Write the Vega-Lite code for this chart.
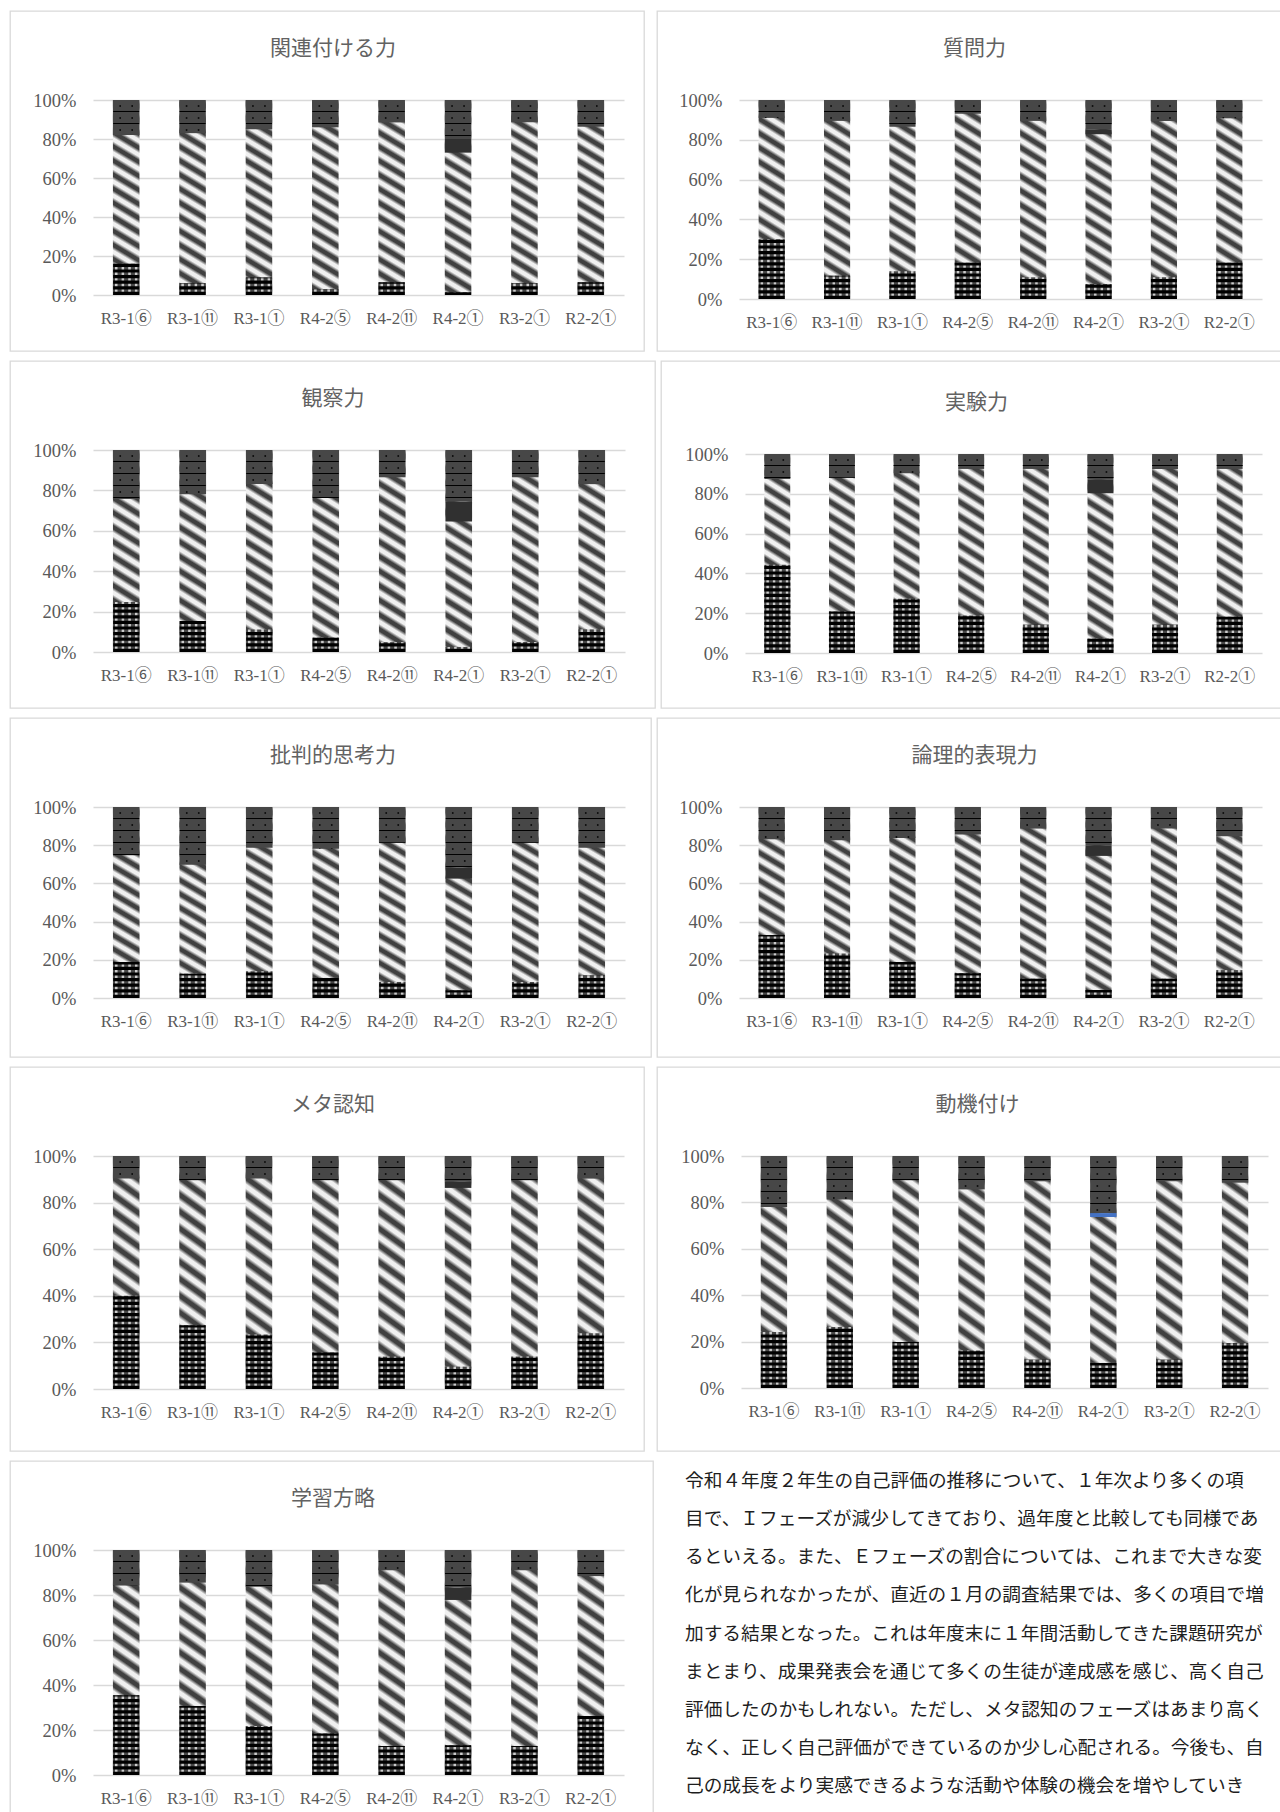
{
  "$schema": "https://vega.github.io/schema/vega-lite/v6.json",
  "padding": {"left": 9, "top": 10, "right": 0, "bottom": 0},
  "background": "white",
  "spacing": 8,
  "datasets": {
    "scores": [
      {"skill": "関連付ける力", "group": "R3-1⑥", "lv1": 0.16, "lv2": 0.66, "lv3": 0, "lv4": 0.18},
      {"skill": "関連付ける力", "group": "R3-1⑪", "lv1": 0.06, "lv2": 0.77, "lv3": 0, "lv4": 0.17},
      {"skill": "関連付ける力", "group": "R3-1①", "lv1": 0.09, "lv2": 0.76, "lv3": 0, "lv4": 0.15},
      {"skill": "関連付ける力", "group": "R4-2⑤", "lv1": 0.03, "lv2": 0.83, "lv3": 0, "lv4": 0.14},
      {"skill": "関連付ける力", "group": "R4-2⑪", "lv1": 0.065, "lv2": 0.82, "lv3": 0, "lv4": 0.115},
      {"skill": "関連付ける力", "group": "R4-2①", "lv1": 0.014, "lv2": 0.716, "lv3": 0.07, "lv4": 0.2},
      {"skill": "関連付ける力", "group": "R3-2①", "lv1": 0.06, "lv2": 0.826, "lv3": 0, "lv4": 0.114},
      {"skill": "関連付ける力", "group": "R2-2①", "lv1": 0.065, "lv2": 0.798, "lv3": 0, "lv4": 0.137},
      {"skill": "質問力", "group": "R3-1⑥", "lv1": 0.3, "lv2": 0.61, "lv3": 0, "lv4": 0.09},
      {"skill": "質問力", "group": "R3-1⑪", "lv1": 0.117, "lv2": 0.778, "lv3": 0, "lv4": 0.105},
      {"skill": "質問力", "group": "R3-1①", "lv1": 0.139, "lv2": 0.726, "lv3": 0, "lv4": 0.135},
      {"skill": "質問力", "group": "R4-2⑤", "lv1": 0.182, "lv2": 0.749, "lv3": 0, "lv4": 0.069},
      {"skill": "質問力", "group": "R4-2⑪", "lv1": 0.109, "lv2": 0.786, "lv3": 0, "lv4": 0.105},
      {"skill": "質問力", "group": "R4-2①", "lv1": 0.075, "lv2": 0.753, "lv3": 0.025, "lv4": 0.147},
      {"skill": "質問力", "group": "R3-2①", "lv1": 0.109, "lv2": 0.786, "lv3": 0, "lv4": 0.105},
      {"skill": "質問力", "group": "R2-2①", "lv1": 0.182, "lv2": 0.726, "lv3": 0, "lv4": 0.092},
      {"skill": "観察力", "group": "R3-1⑥", "lv1": 0.247, "lv2": 0.511, "lv3": 0, "lv4": 0.242},
      {"skill": "観察力", "group": "R3-1⑪", "lv1": 0.153, "lv2": 0.628, "lv3": 0, "lv4": 0.219},
      {"skill": "観察力", "group": "R3-1①", "lv1": 0.112, "lv2": 0.72, "lv3": 0, "lv4": 0.168},
      {"skill": "観察力", "group": "R4-2⑤", "lv1": 0.071, "lv2": 0.691, "lv3": 0, "lv4": 0.238},
      {"skill": "観察力", "group": "R4-2⑪", "lv1": 0.049, "lv2": 0.816, "lv3": 0, "lv4": 0.135},
      {"skill": "観察力", "group": "R4-2①", "lv1": 0.025, "lv2": 0.621, "lv3": 0.099, "lv4": 0.255},
      {"skill": "観察力", "group": "R3-2①", "lv1": 0.049, "lv2": 0.816, "lv3": 0, "lv4": 0.135},
      {"skill": "観察力", "group": "R2-2①", "lv1": 0.112, "lv2": 0.719, "lv3": 0, "lv4": 0.169},
      {"skill": "実験力", "group": "R3-1⑥", "lv1": 0.443, "lv2": 0.432, "lv3": 0, "lv4": 0.125},
      {"skill": "実験力", "group": "R3-1⑪", "lv1": 0.209, "lv2": 0.672, "lv3": 0, "lv4": 0.119},
      {"skill": "実験力", "group": "R3-1①", "lv1": 0.273, "lv2": 0.63, "lv3": 0, "lv4": 0.097},
      {"skill": "実験力", "group": "R4-2⑤", "lv1": 0.189, "lv2": 0.736, "lv3": 0, "lv4": 0.075},
      {"skill": "実験力", "group": "R4-2⑪", "lv1": 0.142, "lv2": 0.783, "lv3": 0, "lv4": 0.075},
      {"skill": "実験力", "group": "R4-2①", "lv1": 0.072, "lv2": 0.731, "lv3": 0.067, "lv4": 0.13},
      {"skill": "実験力", "group": "R3-2①", "lv1": 0.142, "lv2": 0.783, "lv3": 0, "lv4": 0.075},
      {"skill": "実験力", "group": "R2-2①", "lv1": 0.182, "lv2": 0.743, "lv3": 0, "lv4": 0.075},
      {"skill": "批判的思考力", "group": "R3-1⑥", "lv1": 0.188, "lv2": 0.559, "lv3": 0, "lv4": 0.253},
      {"skill": "批判的思考力", "group": "R3-1⑪", "lv1": 0.127, "lv2": 0.571, "lv3": 0, "lv4": 0.302},
      {"skill": "批判的思考力", "group": "R3-1①", "lv1": 0.14, "lv2": 0.647, "lv3": 0, "lv4": 0.213},
      {"skill": "批判的思考力", "group": "R4-2⑤", "lv1": 0.105, "lv2": 0.677, "lv3": 0, "lv4": 0.218},
      {"skill": "批判的思考力", "group": "R4-2⑪", "lv1": 0.084, "lv2": 0.729, "lv3": 0, "lv4": 0.187},
      {"skill": "批判的思考力", "group": "R4-2①", "lv1": 0.04, "lv2": 0.585, "lv3": 0.057, "lv4": 0.318},
      {"skill": "批判的思考力", "group": "R3-2①", "lv1": 0.084, "lv2": 0.729, "lv3": 0, "lv4": 0.187},
      {"skill": "批判的思考力", "group": "R2-2①", "lv1": 0.119, "lv2": 0.668, "lv3": 0, "lv4": 0.213},
      {"skill": "論理的表現力", "group": "R3-1⑥", "lv1": 0.33, "lv2": 0.501, "lv3": 0, "lv4": 0.169},
      {"skill": "論理的表現力", "group": "R3-1⑪", "lv1": 0.233, "lv2": 0.593, "lv3": 0, "lv4": 0.174},
      {"skill": "論理的表現力", "group": "R3-1①", "lv1": 0.188, "lv2": 0.65, "lv3": 0, "lv4": 0.162},
      {"skill": "論理的表現力", "group": "R4-2⑤", "lv1": 0.13, "lv2": 0.726, "lv3": 0, "lv4": 0.144},
      {"skill": "論理的表現力", "group": "R4-2⑪", "lv1": 0.101, "lv2": 0.786, "lv3": 0, "lv4": 0.113},
      {"skill": "論理的表現力", "group": "R4-2①", "lv1": 0.042, "lv2": 0.702, "lv3": 0.056, "lv4": 0.2},
      {"skill": "論理的表現力", "group": "R3-2①", "lv1": 0.101, "lv2": 0.786, "lv3": 0, "lv4": 0.113},
      {"skill": "論理的表現力", "group": "R2-2①", "lv1": 0.146, "lv2": 0.701, "lv3": 0, "lv4": 0.153},
      {"skill": "メタ認知", "group": "R3-1⑥", "lv1": 0.4, "lv2": 0.503, "lv3": 0, "lv4": 0.097},
      {"skill": "メタ認知", "group": "R3-1⑪", "lv1": 0.274, "lv2": 0.622, "lv3": 0, "lv4": 0.104},
      {"skill": "メタ認知", "group": "R3-1①", "lv1": 0.234, "lv2": 0.669, "lv3": 0, "lv4": 0.097},
      {"skill": "メタ認知", "group": "R4-2⑤", "lv1": 0.157, "lv2": 0.739, "lv3": 0, "lv4": 0.104},
      {"skill": "メタ認知", "group": "R4-2⑪", "lv1": 0.139, "lv2": 0.757, "lv3": 0, "lv4": 0.104},
      {"skill": "メタ認知", "group": "R4-2①", "lv1": 0.096, "lv2": 0.767, "lv3": 0.026, "lv4": 0.111},
      {"skill": "メタ認知", "group": "R3-2①", "lv1": 0.139, "lv2": 0.757, "lv3": 0, "lv4": 0.104},
      {"skill": "メタ認知", "group": "R2-2①", "lv1": 0.239, "lv2": 0.664, "lv3": 0, "lv4": 0.097},
      {"skill": "動機付け", "group": "R3-1⑥", "lv1": 0.241, "lv2": 0.539, "lv3": 0, "lv4": 0.22},
      {"skill": "動機付け", "group": "R3-1⑪", "lv1": 0.263, "lv2": 0.55, "lv3": 0, "lv4": 0.187},
      {"skill": "動機付け", "group": "R3-1①", "lv1": 0.198, "lv2": 0.697, "lv3": 0, "lv4": 0.105},
      {"skill": "動機付け", "group": "R4-2⑤", "lv1": 0.162, "lv2": 0.694, "lv3": 0, "lv4": 0.144},
      {"skill": "動機付け", "group": "R4-2⑪", "lv1": 0.122, "lv2": 0.769, "lv3": 0, "lv4": 0.109},
      {"skill": "動機付け", "group": "R4-2①", "lv1": 0.108, "lv2": 0.629, "lv3": 0.017, "lv4": 0.246},
      {"skill": "動機付け", "group": "R3-2①", "lv1": 0.122, "lv2": 0.769, "lv3": 0, "lv4": 0.109},
      {"skill": "動機付け", "group": "R2-2①", "lv1": 0.194, "lv2": 0.691, "lv3": 0, "lv4": 0.115},
      {"skill": "学習方略", "group": "R3-1⑥", "lv1": 0.354, "lv2": 0.489, "lv3": 0, "lv4": 0.157},
      {"skill": "学習方略", "group": "R3-1⑪", "lv1": 0.307, "lv2": 0.548, "lv3": 0, "lv4": 0.145},
      {"skill": "学習方略", "group": "R3-1①", "lv1": 0.218, "lv2": 0.619, "lv3": 0, "lv4": 0.163},
      {"skill": "学習方略", "group": "R4-2⑤", "lv1": 0.184, "lv2": 0.663, "lv3": 0, "lv4": 0.153},
      {"skill": "学習方略", "group": "R4-2⑪", "lv1": 0.129, "lv2": 0.781, "lv3": 0, "lv4": 0.09},
      {"skill": "学習方略", "group": "R4-2①", "lv1": 0.132, "lv2": 0.646, "lv3": 0.055, "lv4": 0.167},
      {"skill": "学習方略", "group": "R3-2①", "lv1": 0.129, "lv2": 0.781, "lv3": 0, "lv4": 0.09},
      {"skill": "学習方略", "group": "R2-2①", "lv1": 0.262, "lv2": 0.622, "lv3": 0, "lv4": 0.116}
    ],
    "notes": [
      {"line": 1, "text": "　令和４年度２年生の自己評価の推移について、１年次より多くの項"},
      {"line": 2, "text": "目で、Ｉフェーズが減少してきており、過年度と比較しても同様であ"},
      {"line": 3, "text": "るといえる。また、Ｅフェーズの割合については、これまで大きな変"},
      {"line": 4, "text": "化が見られなかったが、直近の１月の調査結果では、多くの項目で増"},
      {"line": 5, "text": "加する結果となった。これは年度末に１年間活動してきた課題研究が"},
      {"line": 6, "text": "まとまり、成果発表会を通じて多くの生徒が達成感を感じ、高く自己"},
      {"line": 7, "text": "評価したのかもしれない。ただし、メタ認知のフェーズはあまり高く"},
      {"line": 8, "text": "なく、正しく自己評価ができているのか少し心配される。今後も、自"},
      {"line": 9, "text": "己の成長をより実感できるような活動や体験の機会を増やしていき"}
    ]
  },
  "vconcat": [
    {
      "spacing": 11,
      "hconcat": [
        {
          "width": 634, "height": 340,
          "title": {"text": "関連付ける力", "dx": 6},
          "data": {"name": "scores"},
          "transform": [
            {"filter": {"field": "skill", "equal": "関連付ける力"}},
            {"fold": ["lv1", "lv2", "lv3", "lv4"], "as": ["phase", "share"]},
            {"stack": "share", "groupby": ["group"], "sort": [{"field": "phase", "order": "ascending"}], "as": ["y0", "y1"]}
          ],
          "encoding": {
            "x": {"field": "group", "type": "nominal", "sort": ["R3-1⑥", "R3-1⑪", "R3-1①", "R4-2⑤", "R4-2⑪", "R4-2①", "R3-2①", "R2-2①"], "scale": {"range": [83, 614], "paddingInner": 0.6, "paddingOuter": 0.3}, "axis": {"title": null, "offset": -56}},
            "y": {"field": "y1", "type": "quantitative", "scale": {"domain": [0, 1], "range": [284, 89], "nice": false}, "axis": {"title": null, "offset": -83, "values": [0, 0.2, 0.4, 0.6, 0.8, 1], "format": ".0%"}},
            "y2": {"field": "y0"}
          },
          "layer": [
            {"transform": [{"aggregate": [{"op": "max", "field": "y1", "as": "y1"}, {"op": "min", "field": "y0", "as": "y0"}], "groupby": ["group"]}],
             "mark": {"type": "bar", "fill": {"gradient": "linear", "x1": 1, "y1": 0, "x2": 0.9122, "y2": 1.0745, "stops": [{"offset": 0, "color": "#f0f0f0"}, {"offset": 0.0033, "color": "#f0f0f0"}, {"offset": 0.02, "color": "#404040"}, {"offset": 0.0367, "color": "#404040"}, {"offset": 0.0533, "color": "#f0f0f0"}, {"offset": 0.07, "color": "#f0f0f0"}, {"offset": 0.0867, "color": "#404040"}, {"offset": 0.1033, "color": "#404040"}, {"offset": 0.12, "color": "#f0f0f0"}, {"offset": 0.1367, "color": "#f0f0f0"}, {"offset": 0.1533, "color": "#404040"}, {"offset": 0.17, "color": "#404040"}, {"offset": 0.1867, "color": "#f0f0f0"}, {"offset": 0.2033, "color": "#f0f0f0"}, {"offset": 0.22, "color": "#404040"}, {"offset": 0.2367, "color": "#404040"}, {"offset": 0.2533, "color": "#f0f0f0"}, {"offset": 0.27, "color": "#f0f0f0"}, {"offset": 0.2867, "color": "#404040"}, {"offset": 0.3033, "color": "#404040"}, {"offset": 0.32, "color": "#f0f0f0"}, {"offset": 0.3367, "color": "#f0f0f0"}, {"offset": 0.3533, "color": "#404040"}, {"offset": 0.37, "color": "#404040"}, {"offset": 0.3867, "color": "#f0f0f0"}, {"offset": 0.4033, "color": "#f0f0f0"}, {"offset": 0.42, "color": "#404040"}, {"offset": 0.4367, "color": "#404040"}, {"offset": 0.4533, "color": "#f0f0f0"}, {"offset": 0.47, "color": "#f0f0f0"}, {"offset": 0.4867, "color": "#404040"}, {"offset": 0.5033, "color": "#404040"}, {"offset": 0.52, "color": "#f0f0f0"}, {"offset": 0.5367, "color": "#f0f0f0"}, {"offset": 0.5533, "color": "#404040"}, {"offset": 0.57, "color": "#404040"}, {"offset": 0.5867, "color": "#f0f0f0"}, {"offset": 0.6033, "color": "#f0f0f0"}, {"offset": 0.62, "color": "#404040"}, {"offset": 0.6367, "color": "#404040"}, {"offset": 0.6533, "color": "#f0f0f0"}, {"offset": 0.67, "color": "#f0f0f0"}, {"offset": 0.6867, "color": "#404040"}, {"offset": 0.7033, "color": "#404040"}, {"offset": 0.72, "color": "#f0f0f0"}, {"offset": 0.7367, "color": "#f0f0f0"}, {"offset": 0.7533, "color": "#404040"}, {"offset": 0.77, "color": "#404040"}, {"offset": 0.7867, "color": "#f0f0f0"}, {"offset": 0.8033, "color": "#f0f0f0"}, {"offset": 0.82, "color": "#404040"}, {"offset": 0.8367, "color": "#404040"}, {"offset": 0.8533, "color": "#f0f0f0"}, {"offset": 0.87, "color": "#f0f0f0"}, {"offset": 0.8867, "color": "#404040"}, {"offset": 0.9033, "color": "#404040"}, {"offset": 0.92, "color": "#f0f0f0"}, {"offset": 0.9367, "color": "#f0f0f0"}, {"offset": 0.9533, "color": "#404040"}, {"offset": 0.97, "color": "#404040"}, {"offset": 0.9867, "color": "#f0f0f0"}, {"offset": 1, "color": "#f0f0f0"}]}}},
            {"transform": [{"filter": {"field": "phase", "equal": "lv1"}}],
             "mark": {"type": "bar", "fill": {"gradient": "linear", "x1": 0, "y1": 0, "x2": 1, "y2": 0, "stops": [{"offset": 0, "color": "#474747"}, {"offset": 0.06, "color": "#474747"}, {"offset": 0.095, "color": "#cccccc"}, {"offset": 0.155, "color": "#cccccc"}, {"offset": 0.19, "color": "#474747"}, {"offset": 0.31, "color": "#474747"}, {"offset": 0.345, "color": "#cccccc"}, {"offset": 0.405, "color": "#cccccc"}, {"offset": 0.44, "color": "#474747"}, {"offset": 0.56, "color": "#474747"}, {"offset": 0.595, "color": "#cccccc"}, {"offset": 0.655, "color": "#cccccc"}, {"offset": 0.69, "color": "#474747"}, {"offset": 0.81, "color": "#474747"}, {"offset": 0.845, "color": "#cccccc"}, {"offset": 0.905, "color": "#cccccc"}, {"offset": 0.94, "color": "#474747"}, {"offset": 1, "color": "#474747"}]}}},
            {"transform": [{"filter": {"field": "phase", "equal": "lv1"}}, {"aggregate": [{"op": "min", "field": "y0", "as": "y1"}, {"op": "max", "field": "y1", "as": "y0"}], "groupby": ["group"]}], "mark": {"type": "rule", "style": "imask"}},
            {"transform": [{"filter": {"field": "phase", "equal": "lv3"}}], "mark": {"type": "bar", "fill": "#303030"}},
            {"transform": [{"filter": {"field": "phase", "equal": "lv4"}}], "mark": {"type": "bar", "fill": "#474747"}},
            {"transform": [{"filter": {"field": "phase", "equal": "lv4"}}], "mark": {"type": "rule", "style": "elines"}},
            {"transform": [{"filter": {"field": "phase", "equal": "lv4"}}], "mark": {"type": "rule", "style": "edot", "xOffset": -6}},
            {"transform": [{"filter": {"field": "phase", "equal": "lv4"}}], "mark": {"type": "rule", "style": "edot", "xOffset": 6}}
          ]
        },
        {
          "width": 625, "height": 340,
          "title": {"text": "質問力", "dx": 5},
          "data": {"name": "scores"},
          "transform": [
            {"filter": {"field": "skill", "equal": "質問力"}},
            {"fold": ["lv1", "lv2", "lv3", "lv4"], "as": ["phase", "share"]},
            {"stack": "share", "groupby": ["group"], "sort": [{"field": "phase", "order": "ascending"}], "as": ["y0", "y1"]}
          ],
          "encoding": {
            "x": {"field": "group", "type": "nominal", "sort": ["R3-1⑥", "R3-1⑪", "R3-1①", "R4-2⑤", "R4-2⑪", "R4-2①", "R3-2①", "R2-2①"], "scale": {"range": [82, 605], "paddingInner": 0.6, "paddingOuter": 0.3}, "axis": {"title": null, "offset": -52}},
            "y": {"field": "y1", "type": "quantitative", "scale": {"domain": [0, 1], "range": [288, 89], "nice": false}, "axis": {"title": null, "offset": -82, "values": [0, 0.2, 0.4, 0.6, 0.8, 1], "format": ".0%"}},
            "y2": {"field": "y0"}
          },
          "layer": [
            {"transform": [{"aggregate": [{"op": "max", "field": "y1", "as": "y1"}, {"op": "min", "field": "y0", "as": "y0"}], "groupby": ["group"]}],
             "mark": {"type": "bar", "fill": {"gradient": "linear", "x1": 1, "y1": 0, "x2": 0.9122, "y2": 1.0745, "stops": [{"offset": 0, "color": "#f0f0f0"}, {"offset": 0.0033, "color": "#f0f0f0"}, {"offset": 0.02, "color": "#404040"}, {"offset": 0.0367, "color": "#404040"}, {"offset": 0.0533, "color": "#f0f0f0"}, {"offset": 0.07, "color": "#f0f0f0"}, {"offset": 0.0867, "color": "#404040"}, {"offset": 0.1033, "color": "#404040"}, {"offset": 0.12, "color": "#f0f0f0"}, {"offset": 0.1367, "color": "#f0f0f0"}, {"offset": 0.1533, "color": "#404040"}, {"offset": 0.17, "color": "#404040"}, {"offset": 0.1867, "color": "#f0f0f0"}, {"offset": 0.2033, "color": "#f0f0f0"}, {"offset": 0.22, "color": "#404040"}, {"offset": 0.2367, "color": "#404040"}, {"offset": 0.2533, "color": "#f0f0f0"}, {"offset": 0.27, "color": "#f0f0f0"}, {"offset": 0.2867, "color": "#404040"}, {"offset": 0.3033, "color": "#404040"}, {"offset": 0.32, "color": "#f0f0f0"}, {"offset": 0.3367, "color": "#f0f0f0"}, {"offset": 0.3533, "color": "#404040"}, {"offset": 0.37, "color": "#404040"}, {"offset": 0.3867, "color": "#f0f0f0"}, {"offset": 0.4033, "color": "#f0f0f0"}, {"offset": 0.42, "color": "#404040"}, {"offset": 0.4367, "color": "#404040"}, {"offset": 0.4533, "color": "#f0f0f0"}, {"offset": 0.47, "color": "#f0f0f0"}, {"offset": 0.4867, "color": "#404040"}, {"offset": 0.5033, "color": "#404040"}, {"offset": 0.52, "color": "#f0f0f0"}, {"offset": 0.5367, "color": "#f0f0f0"}, {"offset": 0.5533, "color": "#404040"}, {"offset": 0.57, "color": "#404040"}, {"offset": 0.5867, "color": "#f0f0f0"}, {"offset": 0.6033, "color": "#f0f0f0"}, {"offset": 0.62, "color": "#404040"}, {"offset": 0.6367, "color": "#404040"}, {"offset": 0.6533, "color": "#f0f0f0"}, {"offset": 0.67, "color": "#f0f0f0"}, {"offset": 0.6867, "color": "#404040"}, {"offset": 0.7033, "color": "#404040"}, {"offset": 0.72, "color": "#f0f0f0"}, {"offset": 0.7367, "color": "#f0f0f0"}, {"offset": 0.7533, "color": "#404040"}, {"offset": 0.77, "color": "#404040"}, {"offset": 0.7867, "color": "#f0f0f0"}, {"offset": 0.8033, "color": "#f0f0f0"}, {"offset": 0.82, "color": "#404040"}, {"offset": 0.8367, "color": "#404040"}, {"offset": 0.8533, "color": "#f0f0f0"}, {"offset": 0.87, "color": "#f0f0f0"}, {"offset": 0.8867, "color": "#404040"}, {"offset": 0.9033, "color": "#404040"}, {"offset": 0.92, "color": "#f0f0f0"}, {"offset": 0.9367, "color": "#f0f0f0"}, {"offset": 0.9533, "color": "#404040"}, {"offset": 0.97, "color": "#404040"}, {"offset": 0.9867, "color": "#f0f0f0"}, {"offset": 1, "color": "#f0f0f0"}]}}},
            {"transform": [{"filter": {"field": "phase", "equal": "lv1"}}],
             "mark": {"type": "bar", "fill": {"gradient": "linear", "x1": 0, "y1": 0, "x2": 1, "y2": 0, "stops": [{"offset": 0, "color": "#474747"}, {"offset": 0.06, "color": "#474747"}, {"offset": 0.095, "color": "#cccccc"}, {"offset": 0.155, "color": "#cccccc"}, {"offset": 0.19, "color": "#474747"}, {"offset": 0.31, "color": "#474747"}, {"offset": 0.345, "color": "#cccccc"}, {"offset": 0.405, "color": "#cccccc"}, {"offset": 0.44, "color": "#474747"}, {"offset": 0.56, "color": "#474747"}, {"offset": 0.595, "color": "#cccccc"}, {"offset": 0.655, "color": "#cccccc"}, {"offset": 0.69, "color": "#474747"}, {"offset": 0.81, "color": "#474747"}, {"offset": 0.845, "color": "#cccccc"}, {"offset": 0.905, "color": "#cccccc"}, {"offset": 0.94, "color": "#474747"}, {"offset": 1, "color": "#474747"}]}}},
            {"transform": [{"filter": {"field": "phase", "equal": "lv1"}}, {"aggregate": [{"op": "min", "field": "y0", "as": "y1"}, {"op": "max", "field": "y1", "as": "y0"}], "groupby": ["group"]}], "mark": {"type": "rule", "style": "imask"}},
            {"transform": [{"filter": {"field": "phase", "equal": "lv3"}}], "mark": {"type": "bar", "fill": "#303030"}},
            {"transform": [{"filter": {"field": "phase", "equal": "lv4"}}], "mark": {"type": "bar", "fill": "#474747"}},
            {"transform": [{"filter": {"field": "phase", "equal": "lv4"}}], "mark": {"type": "rule", "style": "elines"}},
            {"transform": [{"filter": {"field": "phase", "equal": "lv4"}}], "mark": {"type": "rule", "style": "edot", "xOffset": -6}},
            {"transform": [{"filter": {"field": "phase", "equal": "lv4"}}], "mark": {"type": "rule", "style": "edot", "xOffset": 6}}
          ]
        }
      ]
    },
    {
      "spacing": 4,
      "hconcat": [
        {
          "width": 645, "height": 347,
          "title": {"text": "観察力", "dx": 0.5},
          "data": {"name": "scores"},
          "transform": [
            {"filter": {"field": "skill", "equal": "観察力"}},
            {"fold": ["lv1", "lv2", "lv3", "lv4"], "as": ["phase", "share"]},
            {"stack": "share", "groupby": ["group"], "sort": [{"field": "phase", "order": "ascending"}], "as": ["y0", "y1"]}
          ],
          "encoding": {
            "x": {"field": "group", "type": "nominal", "sort": ["R3-1⑥", "R3-1⑪", "R3-1①", "R4-2⑤", "R4-2⑪", "R4-2①", "R3-2①", "R2-2①"], "scale": {"range": [83, 615], "paddingInner": 0.6, "paddingOuter": 0.3}, "axis": {"title": null, "offset": -56}},
            "y": {"field": "y1", "type": "quantitative", "scale": {"domain": [0, 1], "range": [291, 89], "nice": false}, "axis": {"title": null, "offset": -83, "values": [0, 0.2, 0.4, 0.6, 0.8, 1], "format": ".0%"}},
            "y2": {"field": "y0"}
          },
          "layer": [
            {"transform": [{"aggregate": [{"op": "max", "field": "y1", "as": "y1"}, {"op": "min", "field": "y0", "as": "y0"}], "groupby": ["group"]}],
             "mark": {"type": "bar", "fill": {"gradient": "linear", "x1": 1, "y1": 0, "x2": 0.9122, "y2": 1.0745, "stops": [{"offset": 0, "color": "#f0f0f0"}, {"offset": 0.0033, "color": "#f0f0f0"}, {"offset": 0.02, "color": "#404040"}, {"offset": 0.0367, "color": "#404040"}, {"offset": 0.0533, "color": "#f0f0f0"}, {"offset": 0.07, "color": "#f0f0f0"}, {"offset": 0.0867, "color": "#404040"}, {"offset": 0.1033, "color": "#404040"}, {"offset": 0.12, "color": "#f0f0f0"}, {"offset": 0.1367, "color": "#f0f0f0"}, {"offset": 0.1533, "color": "#404040"}, {"offset": 0.17, "color": "#404040"}, {"offset": 0.1867, "color": "#f0f0f0"}, {"offset": 0.2033, "color": "#f0f0f0"}, {"offset": 0.22, "color": "#404040"}, {"offset": 0.2367, "color": "#404040"}, {"offset": 0.2533, "color": "#f0f0f0"}, {"offset": 0.27, "color": "#f0f0f0"}, {"offset": 0.2867, "color": "#404040"}, {"offset": 0.3033, "color": "#404040"}, {"offset": 0.32, "color": "#f0f0f0"}, {"offset": 0.3367, "color": "#f0f0f0"}, {"offset": 0.3533, "color": "#404040"}, {"offset": 0.37, "color": "#404040"}, {"offset": 0.3867, "color": "#f0f0f0"}, {"offset": 0.4033, "color": "#f0f0f0"}, {"offset": 0.42, "color": "#404040"}, {"offset": 0.4367, "color": "#404040"}, {"offset": 0.4533, "color": "#f0f0f0"}, {"offset": 0.47, "color": "#f0f0f0"}, {"offset": 0.4867, "color": "#404040"}, {"offset": 0.5033, "color": "#404040"}, {"offset": 0.52, "color": "#f0f0f0"}, {"offset": 0.5367, "color": "#f0f0f0"}, {"offset": 0.5533, "color": "#404040"}, {"offset": 0.57, "color": "#404040"}, {"offset": 0.5867, "color": "#f0f0f0"}, {"offset": 0.6033, "color": "#f0f0f0"}, {"offset": 0.62, "color": "#404040"}, {"offset": 0.6367, "color": "#404040"}, {"offset": 0.6533, "color": "#f0f0f0"}, {"offset": 0.67, "color": "#f0f0f0"}, {"offset": 0.6867, "color": "#404040"}, {"offset": 0.7033, "color": "#404040"}, {"offset": 0.72, "color": "#f0f0f0"}, {"offset": 0.7367, "color": "#f0f0f0"}, {"offset": 0.7533, "color": "#404040"}, {"offset": 0.77, "color": "#404040"}, {"offset": 0.7867, "color": "#f0f0f0"}, {"offset": 0.8033, "color": "#f0f0f0"}, {"offset": 0.82, "color": "#404040"}, {"offset": 0.8367, "color": "#404040"}, {"offset": 0.8533, "color": "#f0f0f0"}, {"offset": 0.87, "color": "#f0f0f0"}, {"offset": 0.8867, "color": "#404040"}, {"offset": 0.9033, "color": "#404040"}, {"offset": 0.92, "color": "#f0f0f0"}, {"offset": 0.9367, "color": "#f0f0f0"}, {"offset": 0.9533, "color": "#404040"}, {"offset": 0.97, "color": "#404040"}, {"offset": 0.9867, "color": "#f0f0f0"}, {"offset": 1, "color": "#f0f0f0"}]}}},
            {"transform": [{"filter": {"field": "phase", "equal": "lv1"}}],
             "mark": {"type": "bar", "fill": {"gradient": "linear", "x1": 0, "y1": 0, "x2": 1, "y2": 0, "stops": [{"offset": 0, "color": "#474747"}, {"offset": 0.06, "color": "#474747"}, {"offset": 0.095, "color": "#cccccc"}, {"offset": 0.155, "color": "#cccccc"}, {"offset": 0.19, "color": "#474747"}, {"offset": 0.31, "color": "#474747"}, {"offset": 0.345, "color": "#cccccc"}, {"offset": 0.405, "color": "#cccccc"}, {"offset": 0.44, "color": "#474747"}, {"offset": 0.56, "color": "#474747"}, {"offset": 0.595, "color": "#cccccc"}, {"offset": 0.655, "color": "#cccccc"}, {"offset": 0.69, "color": "#474747"}, {"offset": 0.81, "color": "#474747"}, {"offset": 0.845, "color": "#cccccc"}, {"offset": 0.905, "color": "#cccccc"}, {"offset": 0.94, "color": "#474747"}, {"offset": 1, "color": "#474747"}]}}},
            {"transform": [{"filter": {"field": "phase", "equal": "lv1"}}, {"aggregate": [{"op": "min", "field": "y0", "as": "y1"}, {"op": "max", "field": "y1", "as": "y0"}], "groupby": ["group"]}], "mark": {"type": "rule", "style": "imask"}},
            {"transform": [{"filter": {"field": "phase", "equal": "lv3"}}], "mark": {"type": "bar", "fill": "#303030"}},
            {"transform": [{"filter": {"field": "phase", "equal": "lv4"}}], "mark": {"type": "bar", "fill": "#474747"}},
            {"transform": [{"filter": {"field": "phase", "equal": "lv4"}}], "mark": {"type": "rule", "style": "elines"}},
            {"transform": [{"filter": {"field": "phase", "equal": "lv4"}}], "mark": {"type": "rule", "style": "edot", "xOffset": -6}},
            {"transform": [{"filter": {"field": "phase", "equal": "lv4"}}], "mark": {"type": "rule", "style": "edot", "xOffset": 6}}
          ]
        },
        {
          "width": 621, "height": 347,
          "title": {"text": "実験力", "dx": 5, "dy": 4},
          "data": {"name": "scores"},
          "transform": [
            {"filter": {"field": "skill", "equal": "実験力"}},
            {"fold": ["lv1", "lv2", "lv3", "lv4"], "as": ["phase", "share"]},
            {"stack": "share", "groupby": ["group"], "sort": [{"field": "phase", "order": "ascending"}], "as": ["y0", "y1"]}
          ],
          "encoding": {
            "x": {"field": "group", "type": "nominal", "sort": ["R3-1⑥", "R3-1⑪", "R3-1①", "R4-2⑤", "R4-2⑪", "R4-2①", "R3-2①", "R2-2①"], "scale": {"range": [84, 601], "paddingInner": 0.6, "paddingOuter": 0.3}, "axis": {"title": null, "offset": -55}},
            "y": {"field": "y1", "type": "quantitative", "scale": {"domain": [0, 1], "range": [292, 93], "nice": false}, "axis": {"title": null, "offset": -84, "values": [0, 0.2, 0.4, 0.6, 0.8, 1], "format": ".0%"}},
            "y2": {"field": "y0"}
          },
          "layer": [
            {"transform": [{"aggregate": [{"op": "max", "field": "y1", "as": "y1"}, {"op": "min", "field": "y0", "as": "y0"}], "groupby": ["group"]}],
             "mark": {"type": "bar", "fill": {"gradient": "linear", "x1": 1, "y1": 0, "x2": 0.9122, "y2": 1.0745, "stops": [{"offset": 0, "color": "#f0f0f0"}, {"offset": 0.0033, "color": "#f0f0f0"}, {"offset": 0.02, "color": "#404040"}, {"offset": 0.0367, "color": "#404040"}, {"offset": 0.0533, "color": "#f0f0f0"}, {"offset": 0.07, "color": "#f0f0f0"}, {"offset": 0.0867, "color": "#404040"}, {"offset": 0.1033, "color": "#404040"}, {"offset": 0.12, "color": "#f0f0f0"}, {"offset": 0.1367, "color": "#f0f0f0"}, {"offset": 0.1533, "color": "#404040"}, {"offset": 0.17, "color": "#404040"}, {"offset": 0.1867, "color": "#f0f0f0"}, {"offset": 0.2033, "color": "#f0f0f0"}, {"offset": 0.22, "color": "#404040"}, {"offset": 0.2367, "color": "#404040"}, {"offset": 0.2533, "color": "#f0f0f0"}, {"offset": 0.27, "color": "#f0f0f0"}, {"offset": 0.2867, "color": "#404040"}, {"offset": 0.3033, "color": "#404040"}, {"offset": 0.32, "color": "#f0f0f0"}, {"offset": 0.3367, "color": "#f0f0f0"}, {"offset": 0.3533, "color": "#404040"}, {"offset": 0.37, "color": "#404040"}, {"offset": 0.3867, "color": "#f0f0f0"}, {"offset": 0.4033, "color": "#f0f0f0"}, {"offset": 0.42, "color": "#404040"}, {"offset": 0.4367, "color": "#404040"}, {"offset": 0.4533, "color": "#f0f0f0"}, {"offset": 0.47, "color": "#f0f0f0"}, {"offset": 0.4867, "color": "#404040"}, {"offset": 0.5033, "color": "#404040"}, {"offset": 0.52, "color": "#f0f0f0"}, {"offset": 0.5367, "color": "#f0f0f0"}, {"offset": 0.5533, "color": "#404040"}, {"offset": 0.57, "color": "#404040"}, {"offset": 0.5867, "color": "#f0f0f0"}, {"offset": 0.6033, "color": "#f0f0f0"}, {"offset": 0.62, "color": "#404040"}, {"offset": 0.6367, "color": "#404040"}, {"offset": 0.6533, "color": "#f0f0f0"}, {"offset": 0.67, "color": "#f0f0f0"}, {"offset": 0.6867, "color": "#404040"}, {"offset": 0.7033, "color": "#404040"}, {"offset": 0.72, "color": "#f0f0f0"}, {"offset": 0.7367, "color": "#f0f0f0"}, {"offset": 0.7533, "color": "#404040"}, {"offset": 0.77, "color": "#404040"}, {"offset": 0.7867, "color": "#f0f0f0"}, {"offset": 0.8033, "color": "#f0f0f0"}, {"offset": 0.82, "color": "#404040"}, {"offset": 0.8367, "color": "#404040"}, {"offset": 0.8533, "color": "#f0f0f0"}, {"offset": 0.87, "color": "#f0f0f0"}, {"offset": 0.8867, "color": "#404040"}, {"offset": 0.9033, "color": "#404040"}, {"offset": 0.92, "color": "#f0f0f0"}, {"offset": 0.9367, "color": "#f0f0f0"}, {"offset": 0.9533, "color": "#404040"}, {"offset": 0.97, "color": "#404040"}, {"offset": 0.9867, "color": "#f0f0f0"}, {"offset": 1, "color": "#f0f0f0"}]}}},
            {"transform": [{"filter": {"field": "phase", "equal": "lv1"}}],
             "mark": {"type": "bar", "fill": {"gradient": "linear", "x1": 0, "y1": 0, "x2": 1, "y2": 0, "stops": [{"offset": 0, "color": "#474747"}, {"offset": 0.06, "color": "#474747"}, {"offset": 0.095, "color": "#cccccc"}, {"offset": 0.155, "color": "#cccccc"}, {"offset": 0.19, "color": "#474747"}, {"offset": 0.31, "color": "#474747"}, {"offset": 0.345, "color": "#cccccc"}, {"offset": 0.405, "color": "#cccccc"}, {"offset": 0.44, "color": "#474747"}, {"offset": 0.56, "color": "#474747"}, {"offset": 0.595, "color": "#cccccc"}, {"offset": 0.655, "color": "#cccccc"}, {"offset": 0.69, "color": "#474747"}, {"offset": 0.81, "color": "#474747"}, {"offset": 0.845, "color": "#cccccc"}, {"offset": 0.905, "color": "#cccccc"}, {"offset": 0.94, "color": "#474747"}, {"offset": 1, "color": "#474747"}]}}},
            {"transform": [{"filter": {"field": "phase", "equal": "lv1"}}, {"aggregate": [{"op": "min", "field": "y0", "as": "y1"}, {"op": "max", "field": "y1", "as": "y0"}], "groupby": ["group"]}], "mark": {"type": "rule", "style": "imask"}},
            {"transform": [{"filter": {"field": "phase", "equal": "lv3"}}], "mark": {"type": "bar", "fill": "#303030"}},
            {"transform": [{"filter": {"field": "phase", "equal": "lv4"}}], "mark": {"type": "bar", "fill": "#474747"}},
            {"transform": [{"filter": {"field": "phase", "equal": "lv4"}}], "mark": {"type": "rule", "style": "elines"}},
            {"transform": [{"filter": {"field": "phase", "equal": "lv4"}}], "mark": {"type": "rule", "style": "edot", "xOffset": -6}},
            {"transform": [{"filter": {"field": "phase", "equal": "lv4"}}], "mark": {"type": "rule", "style": "edot", "xOffset": 6}}
          ]
        }
      ]
    },
    {
      "spacing": 4,
      "hconcat": [
        {
          "width": 641, "height": 339,
          "title": {"text": "批判的思考力", "dx": 2.5},
          "data": {"name": "scores"},
          "transform": [
            {"filter": {"field": "skill", "equal": "批判的思考力"}},
            {"fold": ["lv1", "lv2", "lv3", "lv4"], "as": ["phase", "share"]},
            {"stack": "share", "groupby": ["group"], "sort": [{"field": "phase", "order": "ascending"}], "as": ["y0", "y1"]}
          ],
          "encoding": {
            "x": {"field": "group", "type": "nominal", "sort": ["R3-1⑥", "R3-1⑪", "R3-1①", "R4-2⑤", "R4-2⑪", "R4-2①", "R3-2①", "R2-2①"], "scale": {"range": [83, 615], "paddingInner": 0.6, "paddingOuter": 0.3}, "axis": {"title": null, "offset": -59}},
            "y": {"field": "y1", "type": "quantitative", "scale": {"domain": [0, 1], "range": [280, 89], "nice": false}, "axis": {"title": null, "offset": -83, "values": [0, 0.2, 0.4, 0.6, 0.8, 1], "format": ".0%"}},
            "y2": {"field": "y0"}
          },
          "layer": [
            {"transform": [{"aggregate": [{"op": "max", "field": "y1", "as": "y1"}, {"op": "min", "field": "y0", "as": "y0"}], "groupby": ["group"]}],
             "mark": {"type": "bar", "fill": {"gradient": "linear", "x1": 1, "y1": 0, "x2": 0.9122, "y2": 1.0745, "stops": [{"offset": 0, "color": "#f0f0f0"}, {"offset": 0.0033, "color": "#f0f0f0"}, {"offset": 0.02, "color": "#404040"}, {"offset": 0.0367, "color": "#404040"}, {"offset": 0.0533, "color": "#f0f0f0"}, {"offset": 0.07, "color": "#f0f0f0"}, {"offset": 0.0867, "color": "#404040"}, {"offset": 0.1033, "color": "#404040"}, {"offset": 0.12, "color": "#f0f0f0"}, {"offset": 0.1367, "color": "#f0f0f0"}, {"offset": 0.1533, "color": "#404040"}, {"offset": 0.17, "color": "#404040"}, {"offset": 0.1867, "color": "#f0f0f0"}, {"offset": 0.2033, "color": "#f0f0f0"}, {"offset": 0.22, "color": "#404040"}, {"offset": 0.2367, "color": "#404040"}, {"offset": 0.2533, "color": "#f0f0f0"}, {"offset": 0.27, "color": "#f0f0f0"}, {"offset": 0.2867, "color": "#404040"}, {"offset": 0.3033, "color": "#404040"}, {"offset": 0.32, "color": "#f0f0f0"}, {"offset": 0.3367, "color": "#f0f0f0"}, {"offset": 0.3533, "color": "#404040"}, {"offset": 0.37, "color": "#404040"}, {"offset": 0.3867, "color": "#f0f0f0"}, {"offset": 0.4033, "color": "#f0f0f0"}, {"offset": 0.42, "color": "#404040"}, {"offset": 0.4367, "color": "#404040"}, {"offset": 0.4533, "color": "#f0f0f0"}, {"offset": 0.47, "color": "#f0f0f0"}, {"offset": 0.4867, "color": "#404040"}, {"offset": 0.5033, "color": "#404040"}, {"offset": 0.52, "color": "#f0f0f0"}, {"offset": 0.5367, "color": "#f0f0f0"}, {"offset": 0.5533, "color": "#404040"}, {"offset": 0.57, "color": "#404040"}, {"offset": 0.5867, "color": "#f0f0f0"}, {"offset": 0.6033, "color": "#f0f0f0"}, {"offset": 0.62, "color": "#404040"}, {"offset": 0.6367, "color": "#404040"}, {"offset": 0.6533, "color": "#f0f0f0"}, {"offset": 0.67, "color": "#f0f0f0"}, {"offset": 0.6867, "color": "#404040"}, {"offset": 0.7033, "color": "#404040"}, {"offset": 0.72, "color": "#f0f0f0"}, {"offset": 0.7367, "color": "#f0f0f0"}, {"offset": 0.7533, "color": "#404040"}, {"offset": 0.77, "color": "#404040"}, {"offset": 0.7867, "color": "#f0f0f0"}, {"offset": 0.8033, "color": "#f0f0f0"}, {"offset": 0.82, "color": "#404040"}, {"offset": 0.8367, "color": "#404040"}, {"offset": 0.8533, "color": "#f0f0f0"}, {"offset": 0.87, "color": "#f0f0f0"}, {"offset": 0.8867, "color": "#404040"}, {"offset": 0.9033, "color": "#404040"}, {"offset": 0.92, "color": "#f0f0f0"}, {"offset": 0.9367, "color": "#f0f0f0"}, {"offset": 0.9533, "color": "#404040"}, {"offset": 0.97, "color": "#404040"}, {"offset": 0.9867, "color": "#f0f0f0"}, {"offset": 1, "color": "#f0f0f0"}]}}},
            {"transform": [{"filter": {"field": "phase", "equal": "lv1"}}],
             "mark": {"type": "bar", "fill": {"gradient": "linear", "x1": 0, "y1": 0, "x2": 1, "y2": 0, "stops": [{"offset": 0, "color": "#474747"}, {"offset": 0.06, "color": "#474747"}, {"offset": 0.095, "color": "#cccccc"}, {"offset": 0.155, "color": "#cccccc"}, {"offset": 0.19, "color": "#474747"}, {"offset": 0.31, "color": "#474747"}, {"offset": 0.345, "color": "#cccccc"}, {"offset": 0.405, "color": "#cccccc"}, {"offset": 0.44, "color": "#474747"}, {"offset": 0.56, "color": "#474747"}, {"offset": 0.595, "color": "#cccccc"}, {"offset": 0.655, "color": "#cccccc"}, {"offset": 0.69, "color": "#474747"}, {"offset": 0.81, "color": "#474747"}, {"offset": 0.845, "color": "#cccccc"}, {"offset": 0.905, "color": "#cccccc"}, {"offset": 0.94, "color": "#474747"}, {"offset": 1, "color": "#474747"}]}}},
            {"transform": [{"filter": {"field": "phase", "equal": "lv1"}}, {"aggregate": [{"op": "min", "field": "y0", "as": "y1"}, {"op": "max", "field": "y1", "as": "y0"}], "groupby": ["group"]}], "mark": {"type": "rule", "style": "imask"}},
            {"transform": [{"filter": {"field": "phase", "equal": "lv3"}}], "mark": {"type": "bar", "fill": "#303030"}},
            {"transform": [{"filter": {"field": "phase", "equal": "lv4"}}], "mark": {"type": "bar", "fill": "#474747"}},
            {"transform": [{"filter": {"field": "phase", "equal": "lv4"}}], "mark": {"type": "rule", "style": "elines"}},
            {"transform": [{"filter": {"field": "phase", "equal": "lv4"}}], "mark": {"type": "rule", "style": "edot", "xOffset": -6}},
            {"transform": [{"filter": {"field": "phase", "equal": "lv4"}}], "mark": {"type": "rule", "style": "edot", "xOffset": 6}}
          ]
        },
        {
          "width": 625, "height": 339,
          "title": {"text": "論理的表現力", "dx": 5},
          "data": {"name": "scores"},
          "transform": [
            {"filter": {"field": "skill", "equal": "論理的表現力"}},
            {"fold": ["lv1", "lv2", "lv3", "lv4"], "as": ["phase", "share"]},
            {"stack": "share", "groupby": ["group"], "sort": [{"field": "phase", "order": "ascending"}], "as": ["y0", "y1"]}
          ],
          "encoding": {
            "x": {"field": "group", "type": "nominal", "sort": ["R3-1⑥", "R3-1⑪", "R3-1①", "R4-2⑤", "R4-2⑪", "R4-2①", "R3-2①", "R2-2①"], "scale": {"range": [82, 605], "paddingInner": 0.6, "paddingOuter": 0.3}, "axis": {"title": null, "offset": -59}},
            "y": {"field": "y1", "type": "quantitative", "scale": {"domain": [0, 1], "range": [280, 89], "nice": false}, "axis": {"title": null, "offset": -82, "values": [0, 0.2, 0.4, 0.6, 0.8, 1], "format": ".0%"}},
            "y2": {"field": "y0"}
          },
          "layer": [
            {"transform": [{"aggregate": [{"op": "max", "field": "y1", "as": "y1"}, {"op": "min", "field": "y0", "as": "y0"}], "groupby": ["group"]}],
             "mark": {"type": "bar", "fill": {"gradient": "linear", "x1": 1, "y1": 0, "x2": 0.9122, "y2": 1.0745, "stops": [{"offset": 0, "color": "#f0f0f0"}, {"offset": 0.0033, "color": "#f0f0f0"}, {"offset": 0.02, "color": "#404040"}, {"offset": 0.0367, "color": "#404040"}, {"offset": 0.0533, "color": "#f0f0f0"}, {"offset": 0.07, "color": "#f0f0f0"}, {"offset": 0.0867, "color": "#404040"}, {"offset": 0.1033, "color": "#404040"}, {"offset": 0.12, "color": "#f0f0f0"}, {"offset": 0.1367, "color": "#f0f0f0"}, {"offset": 0.1533, "color": "#404040"}, {"offset": 0.17, "color": "#404040"}, {"offset": 0.1867, "color": "#f0f0f0"}, {"offset": 0.2033, "color": "#f0f0f0"}, {"offset": 0.22, "color": "#404040"}, {"offset": 0.2367, "color": "#404040"}, {"offset": 0.2533, "color": "#f0f0f0"}, {"offset": 0.27, "color": "#f0f0f0"}, {"offset": 0.2867, "color": "#404040"}, {"offset": 0.3033, "color": "#404040"}, {"offset": 0.32, "color": "#f0f0f0"}, {"offset": 0.3367, "color": "#f0f0f0"}, {"offset": 0.3533, "color": "#404040"}, {"offset": 0.37, "color": "#404040"}, {"offset": 0.3867, "color": "#f0f0f0"}, {"offset": 0.4033, "color": "#f0f0f0"}, {"offset": 0.42, "color": "#404040"}, {"offset": 0.4367, "color": "#404040"}, {"offset": 0.4533, "color": "#f0f0f0"}, {"offset": 0.47, "color": "#f0f0f0"}, {"offset": 0.4867, "color": "#404040"}, {"offset": 0.5033, "color": "#404040"}, {"offset": 0.52, "color": "#f0f0f0"}, {"offset": 0.5367, "color": "#f0f0f0"}, {"offset": 0.5533, "color": "#404040"}, {"offset": 0.57, "color": "#404040"}, {"offset": 0.5867, "color": "#f0f0f0"}, {"offset": 0.6033, "color": "#f0f0f0"}, {"offset": 0.62, "color": "#404040"}, {"offset": 0.6367, "color": "#404040"}, {"offset": 0.6533, "color": "#f0f0f0"}, {"offset": 0.67, "color": "#f0f0f0"}, {"offset": 0.6867, "color": "#404040"}, {"offset": 0.7033, "color": "#404040"}, {"offset": 0.72, "color": "#f0f0f0"}, {"offset": 0.7367, "color": "#f0f0f0"}, {"offset": 0.7533, "color": "#404040"}, {"offset": 0.77, "color": "#404040"}, {"offset": 0.7867, "color": "#f0f0f0"}, {"offset": 0.8033, "color": "#f0f0f0"}, {"offset": 0.82, "color": "#404040"}, {"offset": 0.8367, "color": "#404040"}, {"offset": 0.8533, "color": "#f0f0f0"}, {"offset": 0.87, "color": "#f0f0f0"}, {"offset": 0.8867, "color": "#404040"}, {"offset": 0.9033, "color": "#404040"}, {"offset": 0.92, "color": "#f0f0f0"}, {"offset": 0.9367, "color": "#f0f0f0"}, {"offset": 0.9533, "color": "#404040"}, {"offset": 0.97, "color": "#404040"}, {"offset": 0.9867, "color": "#f0f0f0"}, {"offset": 1, "color": "#f0f0f0"}]}}},
            {"transform": [{"filter": {"field": "phase", "equal": "lv1"}}],
             "mark": {"type": "bar", "fill": {"gradient": "linear", "x1": 0, "y1": 0, "x2": 1, "y2": 0, "stops": [{"offset": 0, "color": "#474747"}, {"offset": 0.06, "color": "#474747"}, {"offset": 0.095, "color": "#cccccc"}, {"offset": 0.155, "color": "#cccccc"}, {"offset": 0.19, "color": "#474747"}, {"offset": 0.31, "color": "#474747"}, {"offset": 0.345, "color": "#cccccc"}, {"offset": 0.405, "color": "#cccccc"}, {"offset": 0.44, "color": "#474747"}, {"offset": 0.56, "color": "#474747"}, {"offset": 0.595, "color": "#cccccc"}, {"offset": 0.655, "color": "#cccccc"}, {"offset": 0.69, "color": "#474747"}, {"offset": 0.81, "color": "#474747"}, {"offset": 0.845, "color": "#cccccc"}, {"offset": 0.905, "color": "#cccccc"}, {"offset": 0.94, "color": "#474747"}, {"offset": 1, "color": "#474747"}]}}},
            {"transform": [{"filter": {"field": "phase", "equal": "lv1"}}, {"aggregate": [{"op": "min", "field": "y0", "as": "y1"}, {"op": "max", "field": "y1", "as": "y0"}], "groupby": ["group"]}], "mark": {"type": "rule", "style": "imask"}},
            {"transform": [{"filter": {"field": "phase", "equal": "lv3"}}], "mark": {"type": "bar", "fill": "#303030"}},
            {"transform": [{"filter": {"field": "phase", "equal": "lv4"}}], "mark": {"type": "bar", "fill": "#474747"}},
            {"transform": [{"filter": {"field": "phase", "equal": "lv4"}}], "mark": {"type": "rule", "style": "elines"}},
            {"transform": [{"filter": {"field": "phase", "equal": "lv4"}}], "mark": {"type": "rule", "style": "edot", "xOffset": -6}},
            {"transform": [{"filter": {"field": "phase", "equal": "lv4"}}], "mark": {"type": "rule", "style": "edot", "xOffset": 6}}
          ]
        }
      ]
    },
    {
      "spacing": 11,
      "hconcat": [
        {
          "width": 634, "height": 384,
          "title": {"text": "メタ認知", "dx": 6},
          "data": {"name": "scores"},
          "transform": [
            {"filter": {"field": "skill", "equal": "メタ認知"}},
            {"fold": ["lv1", "lv2", "lv3", "lv4"], "as": ["phase", "share"]},
            {"stack": "share", "groupby": ["group"], "sort": [{"field": "phase", "order": "ascending"}], "as": ["y0", "y1"]}
          ],
          "encoding": {
            "x": {"field": "group", "type": "nominal", "sort": ["R3-1⑥", "R3-1⑪", "R3-1①", "R4-2⑤", "R4-2⑪", "R4-2①", "R3-2①", "R2-2①"], "scale": {"range": [83, 614], "paddingInner": 0.6, "paddingOuter": 0.3}, "axis": {"title": null, "offset": -62}},
            "y": {"field": "y1", "type": "quantitative", "scale": {"domain": [0, 1], "range": [322, 89], "nice": false}, "axis": {"title": null, "offset": -83, "values": [0, 0.2, 0.4, 0.6, 0.8, 1], "format": ".0%"}},
            "y2": {"field": "y0"}
          },
          "layer": [
            {"transform": [{"aggregate": [{"op": "max", "field": "y1", "as": "y1"}, {"op": "min", "field": "y0", "as": "y0"}], "groupby": ["group"]}],
             "mark": {"type": "bar", "fill": {"gradient": "linear", "x1": 1, "y1": 0, "x2": 0.9122, "y2": 1.0745, "stops": [{"offset": 0, "color": "#f0f0f0"}, {"offset": 0.0033, "color": "#f0f0f0"}, {"offset": 0.02, "color": "#404040"}, {"offset": 0.0367, "color": "#404040"}, {"offset": 0.0533, "color": "#f0f0f0"}, {"offset": 0.07, "color": "#f0f0f0"}, {"offset": 0.0867, "color": "#404040"}, {"offset": 0.1033, "color": "#404040"}, {"offset": 0.12, "color": "#f0f0f0"}, {"offset": 0.1367, "color": "#f0f0f0"}, {"offset": 0.1533, "color": "#404040"}, {"offset": 0.17, "color": "#404040"}, {"offset": 0.1867, "color": "#f0f0f0"}, {"offset": 0.2033, "color": "#f0f0f0"}, {"offset": 0.22, "color": "#404040"}, {"offset": 0.2367, "color": "#404040"}, {"offset": 0.2533, "color": "#f0f0f0"}, {"offset": 0.27, "color": "#f0f0f0"}, {"offset": 0.2867, "color": "#404040"}, {"offset": 0.3033, "color": "#404040"}, {"offset": 0.32, "color": "#f0f0f0"}, {"offset": 0.3367, "color": "#f0f0f0"}, {"offset": 0.3533, "color": "#404040"}, {"offset": 0.37, "color": "#404040"}, {"offset": 0.3867, "color": "#f0f0f0"}, {"offset": 0.4033, "color": "#f0f0f0"}, {"offset": 0.42, "color": "#404040"}, {"offset": 0.4367, "color": "#404040"}, {"offset": 0.4533, "color": "#f0f0f0"}, {"offset": 0.47, "color": "#f0f0f0"}, {"offset": 0.4867, "color": "#404040"}, {"offset": 0.5033, "color": "#404040"}, {"offset": 0.52, "color": "#f0f0f0"}, {"offset": 0.5367, "color": "#f0f0f0"}, {"offset": 0.5533, "color": "#404040"}, {"offset": 0.57, "color": "#404040"}, {"offset": 0.5867, "color": "#f0f0f0"}, {"offset": 0.6033, "color": "#f0f0f0"}, {"offset": 0.62, "color": "#404040"}, {"offset": 0.6367, "color": "#404040"}, {"offset": 0.6533, "color": "#f0f0f0"}, {"offset": 0.67, "color": "#f0f0f0"}, {"offset": 0.6867, "color": "#404040"}, {"offset": 0.7033, "color": "#404040"}, {"offset": 0.72, "color": "#f0f0f0"}, {"offset": 0.7367, "color": "#f0f0f0"}, {"offset": 0.7533, "color": "#404040"}, {"offset": 0.77, "color": "#404040"}, {"offset": 0.7867, "color": "#f0f0f0"}, {"offset": 0.8033, "color": "#f0f0f0"}, {"offset": 0.82, "color": "#404040"}, {"offset": 0.8367, "color": "#404040"}, {"offset": 0.8533, "color": "#f0f0f0"}, {"offset": 0.87, "color": "#f0f0f0"}, {"offset": 0.8867, "color": "#404040"}, {"offset": 0.9033, "color": "#404040"}, {"offset": 0.92, "color": "#f0f0f0"}, {"offset": 0.9367, "color": "#f0f0f0"}, {"offset": 0.9533, "color": "#404040"}, {"offset": 0.97, "color": "#404040"}, {"offset": 0.9867, "color": "#f0f0f0"}, {"offset": 1, "color": "#f0f0f0"}]}}},
            {"transform": [{"filter": {"field": "phase", "equal": "lv1"}}],
             "mark": {"type": "bar", "fill": {"gradient": "linear", "x1": 0, "y1": 0, "x2": 1, "y2": 0, "stops": [{"offset": 0, "color": "#474747"}, {"offset": 0.06, "color": "#474747"}, {"offset": 0.095, "color": "#cccccc"}, {"offset": 0.155, "color": "#cccccc"}, {"offset": 0.19, "color": "#474747"}, {"offset": 0.31, "color": "#474747"}, {"offset": 0.345, "color": "#cccccc"}, {"offset": 0.405, "color": "#cccccc"}, {"offset": 0.44, "color": "#474747"}, {"offset": 0.56, "color": "#474747"}, {"offset": 0.595, "color": "#cccccc"}, {"offset": 0.655, "color": "#cccccc"}, {"offset": 0.69, "color": "#474747"}, {"offset": 0.81, "color": "#474747"}, {"offset": 0.845, "color": "#cccccc"}, {"offset": 0.905, "color": "#cccccc"}, {"offset": 0.94, "color": "#474747"}, {"offset": 1, "color": "#474747"}]}}},
            {"transform": [{"filter": {"field": "phase", "equal": "lv1"}}, {"aggregate": [{"op": "min", "field": "y0", "as": "y1"}, {"op": "max", "field": "y1", "as": "y0"}], "groupby": ["group"]}], "mark": {"type": "rule", "style": "imask"}},
            {"transform": [{"filter": {"field": "phase", "equal": "lv3"}}], "mark": {"type": "bar", "fill": "#303030"}},
            {"transform": [{"filter": {"field": "phase", "equal": "lv4"}}], "mark": {"type": "bar", "fill": "#474747"}},
            {"transform": [{"filter": {"field": "phase", "equal": "lv4"}}], "mark": {"type": "rule", "style": "elines"}},
            {"transform": [{"filter": {"field": "phase", "equal": "lv4"}}], "mark": {"type": "rule", "style": "edot", "xOffset": -6}},
            {"transform": [{"filter": {"field": "phase", "equal": "lv4"}}], "mark": {"type": "rule", "style": "edot", "xOffset": 6}}
          ]
        },
        {
          "width": 625, "height": 384,
          "title": {"text": "動機付け", "dx": 8},
          "data": {"name": "scores"},
          "transform": [
            {"filter": {"field": "skill", "equal": "動機付け"}},
            {"fold": ["lv1", "lv2", "lv3", "lv4"], "as": ["phase", "share"]},
            {"stack": "share", "groupby": ["group"], "sort": [{"field": "phase", "order": "ascending"}], "as": ["y0", "y1"]}
          ],
          "encoding": {
            "x": {"field": "group", "type": "nominal", "sort": ["R3-1⑥", "R3-1⑪", "R3-1①", "R4-2⑤", "R4-2⑪", "R4-2①", "R3-2①", "R2-2①"], "scale": {"range": [84, 611], "paddingInner": 0.6, "paddingOuter": 0.3}, "axis": {"title": null, "offset": -63}},
            "y": {"field": "y1", "type": "quantitative", "scale": {"domain": [0, 1], "range": [321, 89], "nice": false}, "axis": {"title": null, "offset": -84, "values": [0, 0.2, 0.4, 0.6, 0.8, 1], "format": ".0%"}},
            "y2": {"field": "y0"}
          },
          "layer": [
            {"transform": [{"aggregate": [{"op": "max", "field": "y1", "as": "y1"}, {"op": "min", "field": "y0", "as": "y0"}], "groupby": ["group"]}],
             "mark": {"type": "bar", "fill": {"gradient": "linear", "x1": 1, "y1": 0, "x2": 0.9122, "y2": 1.0745, "stops": [{"offset": 0, "color": "#f0f0f0"}, {"offset": 0.0033, "color": "#f0f0f0"}, {"offset": 0.02, "color": "#404040"}, {"offset": 0.0367, "color": "#404040"}, {"offset": 0.0533, "color": "#f0f0f0"}, {"offset": 0.07, "color": "#f0f0f0"}, {"offset": 0.0867, "color": "#404040"}, {"offset": 0.1033, "color": "#404040"}, {"offset": 0.12, "color": "#f0f0f0"}, {"offset": 0.1367, "color": "#f0f0f0"}, {"offset": 0.1533, "color": "#404040"}, {"offset": 0.17, "color": "#404040"}, {"offset": 0.1867, "color": "#f0f0f0"}, {"offset": 0.2033, "color": "#f0f0f0"}, {"offset": 0.22, "color": "#404040"}, {"offset": 0.2367, "color": "#404040"}, {"offset": 0.2533, "color": "#f0f0f0"}, {"offset": 0.27, "color": "#f0f0f0"}, {"offset": 0.2867, "color": "#404040"}, {"offset": 0.3033, "color": "#404040"}, {"offset": 0.32, "color": "#f0f0f0"}, {"offset": 0.3367, "color": "#f0f0f0"}, {"offset": 0.3533, "color": "#404040"}, {"offset": 0.37, "color": "#404040"}, {"offset": 0.3867, "color": "#f0f0f0"}, {"offset": 0.4033, "color": "#f0f0f0"}, {"offset": 0.42, "color": "#404040"}, {"offset": 0.4367, "color": "#404040"}, {"offset": 0.4533, "color": "#f0f0f0"}, {"offset": 0.47, "color": "#f0f0f0"}, {"offset": 0.4867, "color": "#404040"}, {"offset": 0.5033, "color": "#404040"}, {"offset": 0.52, "color": "#f0f0f0"}, {"offset": 0.5367, "color": "#f0f0f0"}, {"offset": 0.5533, "color": "#404040"}, {"offset": 0.57, "color": "#404040"}, {"offset": 0.5867, "color": "#f0f0f0"}, {"offset": 0.6033, "color": "#f0f0f0"}, {"offset": 0.62, "color": "#404040"}, {"offset": 0.6367, "color": "#404040"}, {"offset": 0.6533, "color": "#f0f0f0"}, {"offset": 0.67, "color": "#f0f0f0"}, {"offset": 0.6867, "color": "#404040"}, {"offset": 0.7033, "color": "#404040"}, {"offset": 0.72, "color": "#f0f0f0"}, {"offset": 0.7367, "color": "#f0f0f0"}, {"offset": 0.7533, "color": "#404040"}, {"offset": 0.77, "color": "#404040"}, {"offset": 0.7867, "color": "#f0f0f0"}, {"offset": 0.8033, "color": "#f0f0f0"}, {"offset": 0.82, "color": "#404040"}, {"offset": 0.8367, "color": "#404040"}, {"offset": 0.8533, "color": "#f0f0f0"}, {"offset": 0.87, "color": "#f0f0f0"}, {"offset": 0.8867, "color": "#404040"}, {"offset": 0.9033, "color": "#404040"}, {"offset": 0.92, "color": "#f0f0f0"}, {"offset": 0.9367, "color": "#f0f0f0"}, {"offset": 0.9533, "color": "#404040"}, {"offset": 0.97, "color": "#404040"}, {"offset": 0.9867, "color": "#f0f0f0"}, {"offset": 1, "color": "#f0f0f0"}]}}},
            {"transform": [{"filter": {"field": "phase", "equal": "lv1"}}],
             "mark": {"type": "bar", "fill": {"gradient": "linear", "x1": 0, "y1": 0, "x2": 1, "y2": 0, "stops": [{"offset": 0, "color": "#474747"}, {"offset": 0.06, "color": "#474747"}, {"offset": 0.095, "color": "#cccccc"}, {"offset": 0.155, "color": "#cccccc"}, {"offset": 0.19, "color": "#474747"}, {"offset": 0.31, "color": "#474747"}, {"offset": 0.345, "color": "#cccccc"}, {"offset": 0.405, "color": "#cccccc"}, {"offset": 0.44, "color": "#474747"}, {"offset": 0.56, "color": "#474747"}, {"offset": 0.595, "color": "#cccccc"}, {"offset": 0.655, "color": "#cccccc"}, {"offset": 0.69, "color": "#474747"}, {"offset": 0.81, "color": "#474747"}, {"offset": 0.845, "color": "#cccccc"}, {"offset": 0.905, "color": "#cccccc"}, {"offset": 0.94, "color": "#474747"}, {"offset": 1, "color": "#474747"}]}}},
            {"transform": [{"filter": {"field": "phase", "equal": "lv1"}}, {"aggregate": [{"op": "min", "field": "y0", "as": "y1"}, {"op": "max", "field": "y1", "as": "y0"}], "groupby": ["group"]}], "mark": {"type": "rule", "style": "imask"}},
            {"transform": [{"filter": {"field": "phase", "equal": "lv3"}}], "mark": {"type": "bar", "fill": "#4472c4"}},
            {"transform": [{"filter": {"field": "phase", "equal": "lv4"}}], "mark": {"type": "bar", "fill": "#474747"}},
            {"transform": [{"filter": {"field": "phase", "equal": "lv4"}}], "mark": {"type": "rule", "style": "elines"}},
            {"transform": [{"filter": {"field": "phase", "equal": "lv4"}}], "mark": {"type": "rule", "style": "edot", "xOffset": -6}},
            {"transform": [{"filter": {"field": "phase", "equal": "lv4"}}], "mark": {"type": "rule", "style": "edot", "xOffset": 6}}
          ]
        }
      ]
    },
    {
      "spacing": 31,
      "hconcat": [
        {
          "width": 643, "height": 358,
          "title": {"text": "学習方略", "dx": 1.5},
          "data": {"name": "scores"},
          "transform": [
            {"filter": {"field": "skill", "equal": "学習方略"}},
            {"fold": ["lv1", "lv2", "lv3", "lv4"], "as": ["phase", "share"]},
            {"stack": "share", "groupby": ["group"], "sort": [{"field": "phase", "order": "ascending"}], "as": ["y0", "y1"]}
          ],
          "encoding": {
            "x": {"field": "group", "type": "nominal", "sort": ["R3-1⑥", "R3-1⑪", "R3-1①", "R4-2⑤", "R4-2⑪", "R4-2①", "R3-2①", "R2-2①"], "scale": {"range": [83, 614], "paddingInner": 0.6, "paddingOuter": 0.3}, "axis": {"title": null, "offset": -44}},
            "y": {"field": "y1", "type": "quantitative", "scale": {"domain": [0, 1], "range": [314, 89], "nice": false}, "axis": {"title": null, "offset": -83, "values": [0, 0.2, 0.4, 0.6, 0.8, 1], "format": ".0%"}},
            "y2": {"field": "y0"}
          },
          "layer": [
            {"transform": [{"aggregate": [{"op": "max", "field": "y1", "as": "y1"}, {"op": "min", "field": "y0", "as": "y0"}], "groupby": ["group"]}],
             "mark": {"type": "bar", "fill": {"gradient": "linear", "x1": 1, "y1": 0, "x2": 0.9122, "y2": 1.0745, "stops": [{"offset": 0, "color": "#f0f0f0"}, {"offset": 0.0033, "color": "#f0f0f0"}, {"offset": 0.02, "color": "#404040"}, {"offset": 0.0367, "color": "#404040"}, {"offset": 0.0533, "color": "#f0f0f0"}, {"offset": 0.07, "color": "#f0f0f0"}, {"offset": 0.0867, "color": "#404040"}, {"offset": 0.1033, "color": "#404040"}, {"offset": 0.12, "color": "#f0f0f0"}, {"offset": 0.1367, "color": "#f0f0f0"}, {"offset": 0.1533, "color": "#404040"}, {"offset": 0.17, "color": "#404040"}, {"offset": 0.1867, "color": "#f0f0f0"}, {"offset": 0.2033, "color": "#f0f0f0"}, {"offset": 0.22, "color": "#404040"}, {"offset": 0.2367, "color": "#404040"}, {"offset": 0.2533, "color": "#f0f0f0"}, {"offset": 0.27, "color": "#f0f0f0"}, {"offset": 0.2867, "color": "#404040"}, {"offset": 0.3033, "color": "#404040"}, {"offset": 0.32, "color": "#f0f0f0"}, {"offset": 0.3367, "color": "#f0f0f0"}, {"offset": 0.3533, "color": "#404040"}, {"offset": 0.37, "color": "#404040"}, {"offset": 0.3867, "color": "#f0f0f0"}, {"offset": 0.4033, "color": "#f0f0f0"}, {"offset": 0.42, "color": "#404040"}, {"offset": 0.4367, "color": "#404040"}, {"offset": 0.4533, "color": "#f0f0f0"}, {"offset": 0.47, "color": "#f0f0f0"}, {"offset": 0.4867, "color": "#404040"}, {"offset": 0.5033, "color": "#404040"}, {"offset": 0.52, "color": "#f0f0f0"}, {"offset": 0.5367, "color": "#f0f0f0"}, {"offset": 0.5533, "color": "#404040"}, {"offset": 0.57, "color": "#404040"}, {"offset": 0.5867, "color": "#f0f0f0"}, {"offset": 0.6033, "color": "#f0f0f0"}, {"offset": 0.62, "color": "#404040"}, {"offset": 0.6367, "color": "#404040"}, {"offset": 0.6533, "color": "#f0f0f0"}, {"offset": 0.67, "color": "#f0f0f0"}, {"offset": 0.6867, "color": "#404040"}, {"offset": 0.7033, "color": "#404040"}, {"offset": 0.72, "color": "#f0f0f0"}, {"offset": 0.7367, "color": "#f0f0f0"}, {"offset": 0.7533, "color": "#404040"}, {"offset": 0.77, "color": "#404040"}, {"offset": 0.7867, "color": "#f0f0f0"}, {"offset": 0.8033, "color": "#f0f0f0"}, {"offset": 0.82, "color": "#404040"}, {"offset": 0.8367, "color": "#404040"}, {"offset": 0.8533, "color": "#f0f0f0"}, {"offset": 0.87, "color": "#f0f0f0"}, {"offset": 0.8867, "color": "#404040"}, {"offset": 0.9033, "color": "#404040"}, {"offset": 0.92, "color": "#f0f0f0"}, {"offset": 0.9367, "color": "#f0f0f0"}, {"offset": 0.9533, "color": "#404040"}, {"offset": 0.97, "color": "#404040"}, {"offset": 0.9867, "color": "#f0f0f0"}, {"offset": 1, "color": "#f0f0f0"}]}}},
            {"transform": [{"filter": {"field": "phase", "equal": "lv1"}}],
             "mark": {"type": "bar", "fill": {"gradient": "linear", "x1": 0, "y1": 0, "x2": 1, "y2": 0, "stops": [{"offset": 0, "color": "#474747"}, {"offset": 0.06, "color": "#474747"}, {"offset": 0.095, "color": "#cccccc"}, {"offset": 0.155, "color": "#cccccc"}, {"offset": 0.19, "color": "#474747"}, {"offset": 0.31, "color": "#474747"}, {"offset": 0.345, "color": "#cccccc"}, {"offset": 0.405, "color": "#cccccc"}, {"offset": 0.44, "color": "#474747"}, {"offset": 0.56, "color": "#474747"}, {"offset": 0.595, "color": "#cccccc"}, {"offset": 0.655, "color": "#cccccc"}, {"offset": 0.69, "color": "#474747"}, {"offset": 0.81, "color": "#474747"}, {"offset": 0.845, "color": "#cccccc"}, {"offset": 0.905, "color": "#cccccc"}, {"offset": 0.94, "color": "#474747"}, {"offset": 1, "color": "#474747"}]}}},
            {"transform": [{"filter": {"field": "phase", "equal": "lv1"}}, {"aggregate": [{"op": "min", "field": "y0", "as": "y1"}, {"op": "max", "field": "y1", "as": "y0"}], "groupby": ["group"]}], "mark": {"type": "rule", "style": "imask"}},
            {"transform": [{"filter": {"field": "phase", "equal": "lv3"}}], "mark": {"type": "bar", "fill": "#303030"}},
            {"transform": [{"filter": {"field": "phase", "equal": "lv4"}}], "mark": {"type": "bar", "fill": "#474747"}},
            {"transform": [{"filter": {"field": "phase", "equal": "lv4"}}], "mark": {"type": "rule", "style": "elines"}},
            {"transform": [{"filter": {"field": "phase", "equal": "lv4"}}], "mark": {"type": "rule", "style": "edot", "xOffset": -6}},
            {"transform": [{"filter": {"field": "phase", "equal": "lv4"}}], "mark": {"type": "rule", "style": "edot", "xOffset": 6}}
          ]
        },
        {
          "width": 596, "height": 358,
          "view": {"stroke": null},
          "data": {"name": "notes"},
          "mark": {"type": "text", "align": "left", "baseline": "middle", "font": "Noto Sans CJK JP", "fontSize": 18.7, "color": "#1e1e1e"},
          "encoding": {
            "y": {"field": "line", "type": "ordinal", "axis": null, "scale": {"type": "point", "range": [20, 325], "padding": 0}},
            "x": {"value": 0},
            "text": {"field": "text"}
          }
        }
      ]
    }
  ],
  "config": {
    "view": {"stroke": "#d9d9d9", "strokeWidth": 1.3, "fill": "white"},
    "title": {"font": "Noto Sans CJK JP", "fontSize": 21, "fontWeight": "normal", "color": "#626262", "offset": -48, "anchor": "middle"},
    "axis": {"domain": false, "ticks": false, "labelFont": "Liberation Serif, Noto Sans CJK JP", "labelColor": "#595959"},
    "axisX": {"grid": false, "labelAngle": 0, "labelPadding": 15, "labelFontSize": 17},
    "axisY": {"grid": true, "gridColor": "#d9d9d9", "gridWidth": 1.5, "labelPadding": 17, "labelFontSize": 18.5},
    "style": {
      "imask": {"stroke": "#474747", "strokeWidth": 26, "strokeDash": [3.2, 2.4]},
      "elines": {"stroke": "#9e9e9e", "strokeWidth": 26, "strokeDash": [1, 11], "strokeDashOffset": 1},
      "edot": {"stroke": "#c4c4c4", "strokeWidth": 1.6, "strokeDash": [1.6, 10.4], "strokeDashOffset": -5.2}
    }
  }
}
